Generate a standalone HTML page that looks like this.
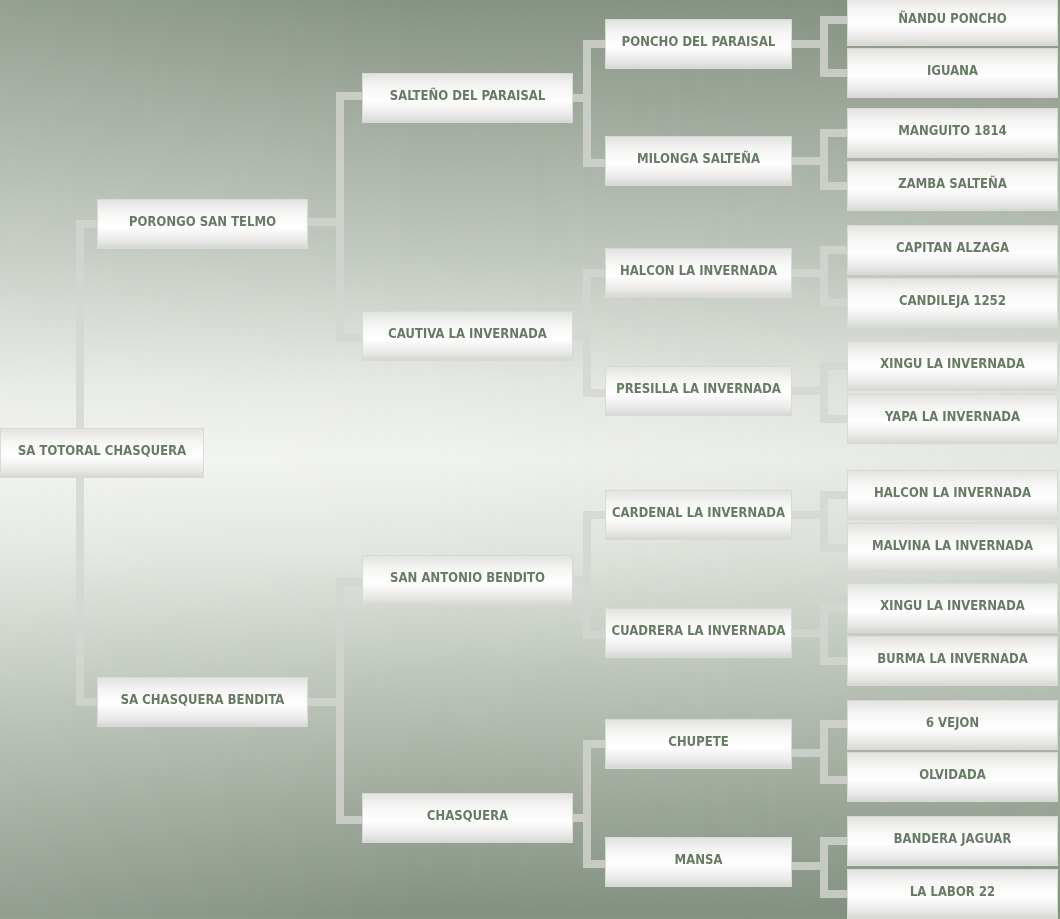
<!DOCTYPE html>
<html><head><meta charset="utf-8"><style>
html,body{margin:0;padding:0}
body{width:1060px;height:916px;overflow:hidden;position:relative;
background:linear-gradient(to right,rgba(255,255,255,0.12) 0%,rgba(255,255,255,0) 40%,rgba(120,135,118,0.1) 100%),
linear-gradient(#869383 0%,#a0aa9d 12%,#c2c9c0 28%,#e6e9e4 42%,#f1f3f0 50%,#e2e6e0 60%,#bec6bb 74%,#9da89a 88%,#849182 100%);}
svg{position:absolute;left:0;top:0}
.b{position:absolute;box-sizing:border-box;height:50px;display:flex;align-items:center;justify-content:center;
background:linear-gradient(#e2e3e1 0%,#f4f4f3 25%,#ffffff 55%,#e9e9e8 85%,#d6d7d5 100%);
border:1px solid #d8dad6;font:bold 13px "DejaVu Sans Condensed","Liberation Sans",sans-serif;color:#667a64;padding-bottom:3px;white-space:nowrap}
</style></head><body>
<svg width="1060" height="916" stroke="#d3d6d1" stroke-opacity="0.8" stroke-width="8" fill="none">
<path d="M97 224H80V702H97"/>
<path d="M308 222H340M362 96H340V338H362"/>
<path d="M308 702H340M362 582H340V820H362"/>
<path d="M573 98H587M605 44H587V163H605"/>
<path d="M573 336H587M605 273H587V393H605"/>
<path d="M573 580H587M605 515H587V635H605"/>
<path d="M573 818H587M605 744H587V864H605"/>
<path d="M792 44H824M847 20H824V73H847"/>
<path d="M792 161H824M847 133H824V186H847"/>
<path d="M792 273H824M847 250H824V303H847"/>
<path d="M792 391H824M847 366H824V419H847"/>
<path d="M792 515H824M847 495H824V548H847"/>
<path d="M792 633H824M847 608H824V661H847"/>
<path d="M792 753H824M847 724H824V780H847"/>
<path d="M792 866H824M847 841H824V894H847"/>
</svg>
<div class="b" style="left:0;top:428px;width:204px">SA TOTORAL CHASQUERA</div>
<div class="b" style="left:97px;top:199px;width:211px">PORONGO SAN TELMO</div>
<div class="b" style="left:97px;top:677px;width:211px">SA CHASQUERA BENDITA</div>
<div class="b" style="left:362px;top:73px;width:211px">SALTEÑO DEL PARAISAL</div>
<div class="b" style="left:362px;top:311px;width:211px">CAUTIVA LA INVERNADA</div>
<div class="b" style="left:362px;top:555px;width:211px">SAN ANTONIO BENDITO</div>
<div class="b" style="left:362px;top:793px;width:211px">CHASQUERA</div>
<div class="b" style="left:605px;top:19px;width:187px">PONCHO DEL PARAISAL</div>
<div class="b" style="left:605px;top:136px;width:187px">MILONGA SALTEÑA</div>
<div class="b" style="left:605px;top:248px;width:187px">HALCON LA INVERNADA</div>
<div class="b" style="left:605px;top:366px;width:187px">PRESILLA LA INVERNADA</div>
<div class="b" style="left:605px;top:490px;width:187px">CARDENAL LA INVERNADA</div>
<div class="b" style="left:605px;top:608px;width:187px">CUADRERA LA INVERNADA</div>
<div class="b" style="left:605px;top:719px;width:187px">CHUPETE</div>
<div class="b" style="left:605px;top:837px;width:187px">MANSA</div>
<div class="b" style="left:847px;top:-4px;width:211px">ÑANDU PONCHO</div>
<div class="b" style="left:847px;top:48px;width:211px">IGUANA</div>
<div class="b" style="left:847px;top:108px;width:211px">MANGUITO 1814</div>
<div class="b" style="left:847px;top:161px;width:211px">ZAMBA SALTEÑA</div>
<div class="b" style="left:847px;top:225px;width:211px">CAPITAN ALZAGA</div>
<div class="b" style="left:847px;top:278px;width:211px">CANDILEJA 1252</div>
<div class="b" style="left:847px;top:341px;width:211px">XINGU LA INVERNADA</div>
<div class="b" style="left:847px;top:394px;width:211px">YAPA LA INVERNADA</div>
<div class="b" style="left:847px;top:470px;width:211px">HALCON LA INVERNADA</div>
<div class="b" style="left:847px;top:523px;width:211px">MALVINA LA INVERNADA</div>
<div class="b" style="left:847px;top:583px;width:211px">XINGU LA INVERNADA</div>
<div class="b" style="left:847px;top:636px;width:211px">BURMA LA INVERNADA</div>
<div class="b" style="left:847px;top:700px;width:211px">6 VEJON</div>
<div class="b" style="left:847px;top:752px;width:211px">OLVIDADA</div>
<div class="b" style="left:847px;top:816px;width:211px">BANDERA JAGUAR</div>
<div class="b" style="left:847px;top:869px;width:211px">LA LABOR 22</div>
</body></html>
